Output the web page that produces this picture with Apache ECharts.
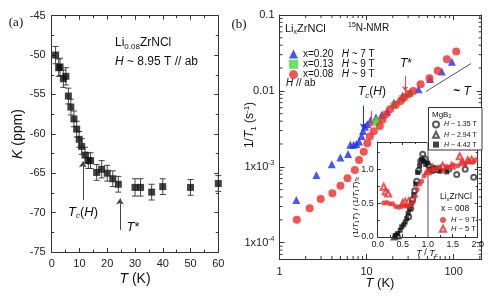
<!DOCTYPE html>
<html><head><meta charset="utf-8">
<script src="https://cdn.jsdelivr.net/npm/echarts@6/dist/echarts.min.js"></script>
<style>html,body{margin:0;padding:0;background:#fff}#c{width:491px;height:297px}</style>
</head><body><div id="c"></div>
<script>
// ---------- Panel (a): Knight shift K vs T ----------
const aT   = [1.4, 2.5, 3.0, 4.2, 5.1, 6.0, 6.9, 8.0, 9.0, 9.9, 10.8, 12.0, 13.2, 14.0, 16.2, 18.0, 20.0, 22.0, 24.0, 30.0, 32.0, 36.0, 40.0, 50.0, 60.0];
const aK   = [-50.0, -51.6, -51.5, -53.0, -52.7, -55.2, -56.6, -58.1, -59.4, -60.7, -61.6, -62.7, -63.4, -63.4, -64.9, -64.5, -65.0, -65.7, -66.4, -66.8, -66.8, -67.4, -66.7, -66.8, -66.3];
const aErr = [1.1, 1.1, 1.1, 1.1, 1.1, 1.0, 1.0, 1.0, 1.0, 1.0, 1.0, 1.0, 1.0, 1.0, 1.0, 1.1, 1.0, 1.0, 1.0, 1.1, 1.1, 1.0, 1.0, 1.0, 1.0];
const aArrows = [[11.2, -68.4, -63.5], [24.6, -72.2, -68.2]];

// ---------- Panel (b): 1/T1 vs T (log-log) ----------
const blueT = [1.56, 2.65, 3.98, 5.0, 6.13, 6.5, 7.1, 7.65, 8.2, 8.76, 9.1, 9.6, 10.2, 11.1, 12.8, 14.9, 17.3, 20.6, 25.9, 31.4, 39.5, 53.7, 73, 95.4];
const blueR = [3.66e-4, 7.8e-4, 1.08e-3, 1.33e-3, 1.47e-3, 1.95e-3, 1.95e-3, 2.0e-3, 2.15e-3, 2.55e-3, 2.97e-3, 3.36e-3, 3.63e-3, 4.11e-3, 4.45e-3, 4.83e-3, 5.34e-3, 7.0e-3, 8.6e-3, 9.5e-3, 1.05e-2, 1.43e-2, 1.8e-2, 2.43e-2];
const greenT = [12.4, 13.5, 20.5, 25.5, 31.0];
const greenR = [3.8e-3, 4.1e-3, 6.4e-3, 7.9e-3, 9.2e-3];
const redT = [1.58, 2.22, 2.97, 4.05, 5.01, 6.04, 7.33, 8.2, 9.3, 10.2, 10.9, 12.1, 14.2, 15.3, 16.7, 18.6, 21.7, 24.7, 27.0, 30.1, 34.4, 41.8, 52.8, 65.6, 83.6, 107];
const redR = [2.0e-4, 2.84e-4, 3.77e-4, 4.48e-4, 5.64e-4, 7.05e-4, 9.1e-4, 1.23e-3, 1.58e-3, 2.05e-3, 2.5e-3, 2.95e-3, 3.45e-3, 4.2e-3, 4.93e-3, 5.74e-3, 6.55e-3, 7.38e-3, 8.17e-3, 9.04e-3, 1.0e-2, 1.22e-2, 1.47e-2, 1.84e-2, 2.62e-2, 3.30e-2];
const slopeLine = [[47.9, 9.8e-3], [158, 2.29e-2]];
const bArrows = [[9.1, 6.4e-3, 3.2e-3, '#2233dd'], [11.2, 5.45e-3, 3.4e-3, '#ee4444'], [27.7, 1.58e-2, 9.9e-3, '#ee4444']];
const bXRange = [1, 210];
const bYRange = [6.1e-5, 0.1];

// ---------- Inset ----------
const in9X = [0.12, 0.18, 0.24, 0.30, 0.36, 0.42, 0.48, 0.54, 0.60, 0.66, 0.71, 0.75, 0.79, 0.84, 0.88, 0.93, 0.98, 1.03, 1.10, 1.17, 1.24, 1.31, 1.38, 1.45, 1.52, 1.60, 1.68, 1.75, 1.82, 1.90, 1.96];
const in9Y = [0.50, 0.51, 0.49, 0.49, 0.45, 0.44, 0.45, 0.46, 0.45, 0.48, 0.52, 0.60, 0.70, 0.78, 0.82, 0.90, 0.95, 0.98, 1.00, 1.01, 1.03, 0.98, 1.04, 1.03, 1.06, 1.05, 1.10, 1.08, 1.12, 1.10, 1.14];
const in5X = [0.12, 0.16, 0.21, 0.50, 0.55, 0.62, 1.00, 1.10, 1.30, 1.48, 1.64, 1.70, 1.80, 1.88];
const in5Y = [0.74, 0.67, 0.64, 0.50, 0.52, 0.53, 0.97, 1.02, 1.05, 1.05, 1.19, 1.10, 1.13, 1.14];
const mgAX = [0.62, 0.66, 0.70, 0.74, 0.78, 0.82, 0.86, 0.90, 0.95, 1.02, 1.10, 1.20, 1.30, 1.42, 1.58, 1.75, 1.92];
const mgAY = [0.30, 0.42, 0.55, 0.68, 0.82, 0.98, 1.12, 1.22, 1.15, 1.05, 0.98, 0.99, 1.02, 1.00, 0.92, 1.00, 0.88];
const mgBX = [0.33, 0.37, 0.41, 0.90, 1.12];
const mgBY = [0.00, 0.02, 0.02, 1.15, 1.00];
const mgCX = [0.35, 0.40, 0.45, 0.48, 0.52, 0.55, 0.58, 0.61, 0.64, 0.68, 0.72, 0.76, 0.80, 0.84, 0.88, 0.92, 0.96, 1.00, 1.05, 1.15, 1.25, 1.38];
const mgCY = [0.02, 0.05, 0.10, 0.15, 0.18, 0.22, 0.27, 0.35, 0.42, 0.50, 0.62, 0.78, 0.95, 1.05, 1.14, 1.12, 1.07, 1.09, 1.00, 1.02, 0.97, 0.96];

const legendText = {
  'x=0.20': '{a|x=0.20}   {i|H} ~ 7 T',
  'x=0.13': '{a|x=0.13}   {i|H} ~ 9 T',
  'x=0.08': '{a|x=0.08}   {i|H} ~ 9 T',
  'MgB2 a': '{i|H} ~ 1.35 T',
  'MgB2 b': '{i|H} ~ 2.94 T',
  'MgB2 c': '{i|H} ~ 4.42 T',
  'Li 9T': '{i|H} ~ 9 T',
  'Li 5T': '{i|H} ~ 5 T'
};

const FONT = 'Liberation Sans';
const AX = '#333';
const RED = '#ee2a2a', BLUE = '#1d2bf2', GREEN = '#44dd33';

function zipXY(xs, ys) { return xs.map((x, i) => [x, ys[i]]); }

function axis(type, grid, pos, o) {
  const a = {
    type: type, gridIndex: grid, position: pos,
    axisLine: { show: true, onZero: false, lineStyle: { color: AX, width: 1 } },
    axisTick: { show: true, inside: true, length: 4, lineStyle: { color: AX } },
    splitLine: { show: false },
    axisLabel: { show: false, fontFamily: FONT, fontSize: 11, color: '#222' }
  };
  return Object.assign(a, o || {});
}
const isPow10 = v => { const l = Math.log10(v); return Math.abs(l - Math.round(l)) < 1e-6; };

const xAxes = [
  axis('value', 0, 'bottom', { min: 0, max: 60, interval: 10, minorTick: { show: true, splitNumber: 2, length: 2.5, lineStyle: { color: AX } },
    axisLabel: { show: true, fontFamily: FONT, fontSize: 11, color: '#222', margin: 6 } }),
  axis('value', 0, 'top', { min: 0, max: 60, interval: 10, minorTick: { show: true, splitNumber: 2, length: 2.5, lineStyle: { color: AX } } }),
  axis('log', 1, 'bottom', { min: bXRange[0], max: bXRange[1], logBase: 10, axisTick: { show: true, inside: true, length: 5, lineStyle: { color: AX } },
    axisLabel: { show: true, fontFamily: FONT, fontSize: 11, color: '#222', margin: 7, showMaxLabel: true,
      formatter: v => isPow10(v) && v < 200 ? String(Math.round(v)) : '' } }),
  axis('log', 1, 'top', { min: bXRange[0], max: bXRange[1], logBase: 10, axisTick: { show: true, inside: true, length: 5, lineStyle: { color: AX } } }),
  axis('value', 2, 'bottom', { min: 0, max: 2, interval: 0.5, minorTick: { show: true, splitNumber: 2, length: 2, lineStyle: { color: AX } },
    axisTick: { show: true, inside: true, length: 3, lineStyle: { color: AX } },
    axisLabel: { show: true, fontFamily: FONT, fontSize: 9, color: '#222', margin: 3, formatter: v => v.toFixed(1) } }),
  axis('value', 2, 'top', { min: 0, max: 2, interval: 0.5, minorTick: { show: true, splitNumber: 2, length: 2, lineStyle: { color: AX } },
    axisTick: { show: true, inside: true, length: 3, lineStyle: { color: AX } } })
];
const yAxes = [
  axis('value', 0, 'left', { min: -75, max: -45, interval: 5, minorTick: { show: true, splitNumber: 2, length: 2.5, lineStyle: { color: AX } },
    axisLabel: { show: true, fontFamily: FONT, fontSize: 11, color: '#222', margin: 6 } }),
  axis('value', 0, 'right', { min: -75, max: -45, interval: 5, minorTick: { show: true, splitNumber: 2, length: 2.5, lineStyle: { color: AX } } }),
  axis('log', 1, 'left', { min: bYRange[0], max: bYRange[1], logBase: 10, axisTick: { show: true, inside: true, length: 5, lineStyle: { color: AX } },
    axisLabel: { show: true, fontFamily: FONT, fontSize: 11, color: '#222', margin: 5,
      formatter: v => { if (!isPow10(v)) return ''; const e = Math.round(Math.log10(v)); if (e === -1) return '0.1'; if (e === -2) return '0.01'; return '1x10{s|' + e + '}'; },
      rich: { s: { fontSize: 7, fontFamily: FONT, color: '#222', padding: [0, 0, 7, 0] } } } }),
  axis('log', 1, 'right', { min: bYRange[0], max: bYRange[1], logBase: 10, axisTick: { show: true, inside: true, length: 5, lineStyle: { color: AX } } }),
  axis('value', 2, 'left', { min: 0, max: 1.4, interval: 0.5, minorTick: { show: true, splitNumber: 2, length: 2, lineStyle: { color: AX } },
    axisTick: { show: true, inside: true, length: 3, lineStyle: { color: AX } },
    axisLabel: { show: true, fontFamily: FONT, fontSize: 9, color: '#222', margin: 4, showMaxLabel: false,
      formatter: v => (Math.abs(v * 2 - Math.round(v * 2)) < 1e-6 ? v.toFixed(1) : '') } }),
  axis('value', 2, 'right', { min: 0, max: 1.4, interval: 0.5, minorTick: { show: true, splitNumber: 2, length: 2, lineStyle: { color: AX } },
    axisTick: { show: true, inside: true, length: 3, lineStyle: { color: AX } } })
];

// minor ticks for log axes at 2..9 per decade
const xMinor = [], yMinor = [];
[1, 10, 100].forEach(d => { for (let k = 2; k <= 9; k++) { const v = d * k; if (v < bXRange[1]) xMinor.push(v); } });
[1e-5, 1e-4, 1e-3, 1e-2].forEach(d => { for (let k = 2; k <= 9; k++) { const v = d * k; if (v > bYRange[0] && v < bYRange[1]) yMinor.push(v); } });
const tickData = xMinor.map(v => [v, 1e-3, 0]).concat(yMinor.map(v => [2, v, 1]));
function tickRender(params, api) {
  const kind = api.value(2), L = 3;
  const ls = { stroke: AX, lineWidth: 1 };
  if (kind === 0) {
    const v = api.value(0);
    const p1 = api.coord([v, bYRange[0]]), p2 = api.coord([v, bYRange[1]]);
    return { type: 'group', children: [
      { type: 'line', shape: { x1: p1[0], y1: p1[1], x2: p1[0], y2: p1[1] - L }, style: ls },
      { type: 'line', shape: { x1: p2[0], y1: p2[1], x2: p2[0], y2: p2[1] + L }, style: ls } ] };
  } else {
    const v = api.value(1);
    const p1 = api.coord([bXRange[0], v]), p2 = api.coord([bXRange[1], v]);
    return { type: 'group', children: [
      { type: 'line', shape: { x1: p1[0], y1: p1[1], x2: p1[0] + L, y2: p1[1] }, style: ls },
      { type: 'line', shape: { x1: p2[0], y1: p2[1], x2: p2[0] - L, y2: p2[1] }, style: ls } ] };
  }
}
function errRender(params, api) {
  const x = api.value(0), y = api.value(1), e = api.value(2), w = 3;
  const t = api.coord([x, y + e]), b = api.coord([x, y - e]);
  const ls = { stroke: '#444', lineWidth: 1 };
  return { type: 'group', children: [
    { type: 'line', shape: { x1: t[0], y1: t[1], x2: b[0], y2: b[1] }, style: ls },
    { type: 'line', shape: { x1: t[0] - w, y1: t[1], x2: t[0] + w, y2: t[1] }, style: ls },
    { type: 'line', shape: { x1: b[0] - w, y1: b[1], x2: b[0] + w, y2: b[1] }, style: ls } ] };
}

const series = [
  { type: 'custom', name: 'errbars', xAxisIndex: 0, yAxisIndex: 0, renderItem: errRender, data: aT.map((t, i) => [t, aK[i], aErr[i]]), z: 2, silent: true },
  { type: 'scatter', name: 'K', xAxisIndex: 0, yAxisIndex: 0, symbol: 'rect', symbolSize: 7, itemStyle: { color: '#111' }, data: zipXY(aT, aK), z: 3, clip: true },
  { type: 'line', name: 'a-arrows', xAxisIndex: 0, yAxisIndex: 0, data: [], z: 4,
    markLine: { silent: true, symbol: ['none', 'arrow'], symbolSize: 6, label: { show: false }, lineStyle: { color: '#444', width: 1, type: 'solid' },
      data: aArrows.map(a => [{ coord: [a[0], a[1]] }, { coord: [a[0], a[2]] }]) } },
  { type: 'custom', name: 'minor', xAxisIndex: 2, yAxisIndex: 2, renderItem: tickRender, data: tickData, silent: true, z: 1 },
  { type: 'line', name: 'slope', xAxisIndex: 2, yAxisIndex: 2, data: slopeLine, symbol: 'none', lineStyle: { color: '#555', width: 1 }, z: 2,
    markLine: { silent: true, symbol: ['none', 'arrow'], symbolSize: 5, label: { show: false },
      data: bArrows.map(a => [{ coord: [a[0], a[1]], lineStyle: { color: a[3], width: 1, type: 'solid' } }, { coord: [a[0], a[2]], lineStyle: { color: a[3], width: 1, type: 'solid' } }]) } },
  { type: 'scatter', name: 'x=0.20', xAxisIndex: 2, yAxisIndex: 2, symbol: 'triangle', symbolSize: 8, itemStyle: { color: BLUE }, data: zipXY(blueT, blueR), z: 3 },
  { type: 'scatter', name: 'x=0.13', xAxisIndex: 2, yAxisIndex: 2, symbol: 'rect', symbolSize: 7, itemStyle: { color: GREEN }, data: zipXY(greenT, greenR), z: 4 },
  { type: 'scatter', name: 'x=0.08', xAxisIndex: 2, yAxisIndex: 2, symbol: 'circle', symbolSize: 8, itemStyle: { color: RED }, data: zipXY(redT, redR), z: 5 },
  { type: 'scatter', name: 'MgB2 a', xAxisIndex: 4, yAxisIndex: 4, symbol: 'emptyCircle', symbolSize: 5, itemStyle: { color: '#333', borderWidth: 0.8 }, data: zipXY(mgAX, mgAY), z: 6,
    markLine: { silent: true, symbol: 'none', label: { show: false }, lineStyle: { color: '#aaa', width: 2, type: 'solid' }, data: [{ xAxis: 1 }] } },
  { type: 'scatter', name: 'MgB2 b', xAxisIndex: 4, yAxisIndex: 4, symbol: 'emptyTriangle', symbolSize: 5, itemStyle: { color: '#333', borderWidth: 0.8 }, data: zipXY(mgBX, mgBY), z: 6 },
  { type: 'scatter', name: 'MgB2 c', xAxisIndex: 4, yAxisIndex: 4, symbol: 'rect', symbolSize: 5, itemStyle: { color: '#111' }, data: zipXY(mgCX, mgCY), z: 7 },
  { type: 'scatter', name: 'Li 5T', xAxisIndex: 4, yAxisIndex: 4, symbol: 'emptyTriangle', symbolSize: 6, itemStyle: { color: RED, borderWidth: 0.8 }, data: zipXY(in5X, in5Y), z: 6 },
  { type: 'scatter', name: 'Li 9T', xAxisIndex: 4, yAxisIndex: 4, symbol: 'circle', symbolSize: 5, itemStyle: { color: RED }, data: zipXY(in9X, in9Y), z: 7 }
];

const legendBase = (names, left, top, fs, icon, lh, gap) => ({
  data: names, left: left, top: top, orient: 'vertical', itemWidth: icon, itemHeight: icon, itemGap: gap, padding: 0, selectedMode: false, z: 60,
  formatter: n => legendText[n],
  textStyle: { fontFamily: FONT, fontSize: fs, color: '#111', lineHeight: lh,
    rich: { a: { fontFamily: FONT, fontSize: fs, color: '#111', lineHeight: lh }, i: { fontFamily: FONT, fontSize: fs, fontStyle: 'italic', color: '#111', lineHeight: lh } } }
});

function tx(x, y, text, size, o) {
  o = o || {};
  const fam = o.family || FONT;
  const base = { fontSize: size, fontFamily: fam, fill: '#111' };
  const rich = {
    i: Object.assign({}, base, { fontStyle: 'italic' }),
    s: Object.assign({}, base, { fontSize: Math.round(size * 0.65), padding: [Math.round(size * 0.55), 0, 0, 0] }),
    p: Object.assign({}, base, { fontSize: Math.round(size * 0.65), padding: [0, 0, Math.round(size * 0.6), 0] }),
    si: Object.assign({}, base, { fontSize: Math.round(size * 0.65), fontStyle: 'italic', padding: [Math.round(size * 0.55), 0, 0, 0] })
  };
  return { type: 'text', x: x, y: y, rotation: o.rot || 0, z: o.z || 50,
    style: Object.assign({ text: text, rich: rich, align: o.align || 'left', verticalAlign: 'middle', textAlign: o.align || 'left', textVerticalAlign: 'middle' }, base, o.bold ? { fontWeight: 'bold' } : {}) };
}

const graphics = [
  tx(16, 23, '(a)', 13, { family: 'Liberation Serif', align: 'center' }),
  tx(239, 25, '(b)', 13, { family: 'Liberation Serif', align: 'center' }),
  tx(115, 43, 'Li{s|0.08}ZrNCl', 12),
  tx(115, 62, '{i|H} ~ 8.95 T // ab', 12),
  tx(83, 212, '{i|T}{si|c}({i|H})', 13, { align: 'center' }),
  tx(133, 227, '{i|T}*', 13, { align: 'center' }),
  tx(18, 134, '{i|K} (ppm)', 14, { align: 'center', rot: Math.PI / 2 }),
  tx(135, 279, '{i|T} (K)', 14, { align: 'center' }),
  tx(285, 29, 'Li{s|x}ZrNCl', 11),
  tx(348, 28, '{p|15}N-NMR', 10),
  tx(286, 83, '{i|H} // ab', 10),
  tx(372, 92, '{i|T}{si|c}({i|H})', 12, { align: 'center' }),
  tx(406, 64, '{i|T}*', 12, { align: 'center' }),
  tx(462, 92, '~ {i|T}', 12, { align: 'center', bold: true }),
  tx(250, 125, '1/{i|T}{s|1} (s{p|-1})', 12, { align: 'center', rot: Math.PI / 2 }),
  tx(380, 283, '{i|T} (K)', 13, { align: 'center' }),
  tx(356, 207, '(1/{i|T}{s|1}{i|T}) / (1/{i|T}{s|1}{i|T}){s|Tc}', 8, { align: 'center', rot: Math.PI / 2 }),
  tx(427, 253, '{i|T} / {i|T}{s|c}', 9, { align: 'center' }),
  { type: 'rect', shape: { x: 428.5, y: 107.5, width: 53.5, height: 42.5 }, style: { fill: '#fff', stroke: '#333', lineWidth: 1 }, z: 40 },
  tx(432, 115, 'MgB{s|2}', 8),
  tx(440, 197, 'Li{s|x}ZrNCl', 8.5),
  tx(441, 209, 'x = 008', 8.5)
];

const option = {
  animation: false,
  backgroundColor: '#fff',
  textStyle: { fontFamily: FONT },
  grid: [
    { left: 51.7, top: 15.7, width: 166.6, height: 236.3, outerBoundsMode: 'none', containLabel: false },
    { left: 279.5, top: 15, width: 202.2, height: 244, outerBoundsMode: 'none', containLabel: false },
    { left: 377.7, top: 142, width: 100, height: 95, outerBoundsMode: 'none', containLabel: false, show: true, backgroundColor: '#fff', borderWidth: 0 }
  ],
  xAxis: xAxes,
  yAxis: yAxes,
  legend: [
    legendBase(['x=0.20', 'x=0.13', 'x=0.08'], 289, 49, 10, 9, 8, 0.3),
    legendBase(['MgB2 a', 'MgB2 b', 'MgB2 c'], 432, 120.5, 7, 6, 7, 2.3),
    legendBase(['Li 9T', 'Li 5T'], 439, 216, 7.5, 6, 7.5, 0.8)
  ],
  graphic: { elements: graphics },
  series: series
};
const chart = echarts.init(document.getElementById('c'), null, { renderer: 'canvas', width: 491, height: 297 });
chart.setOption(option);
</script>
</body></html>
